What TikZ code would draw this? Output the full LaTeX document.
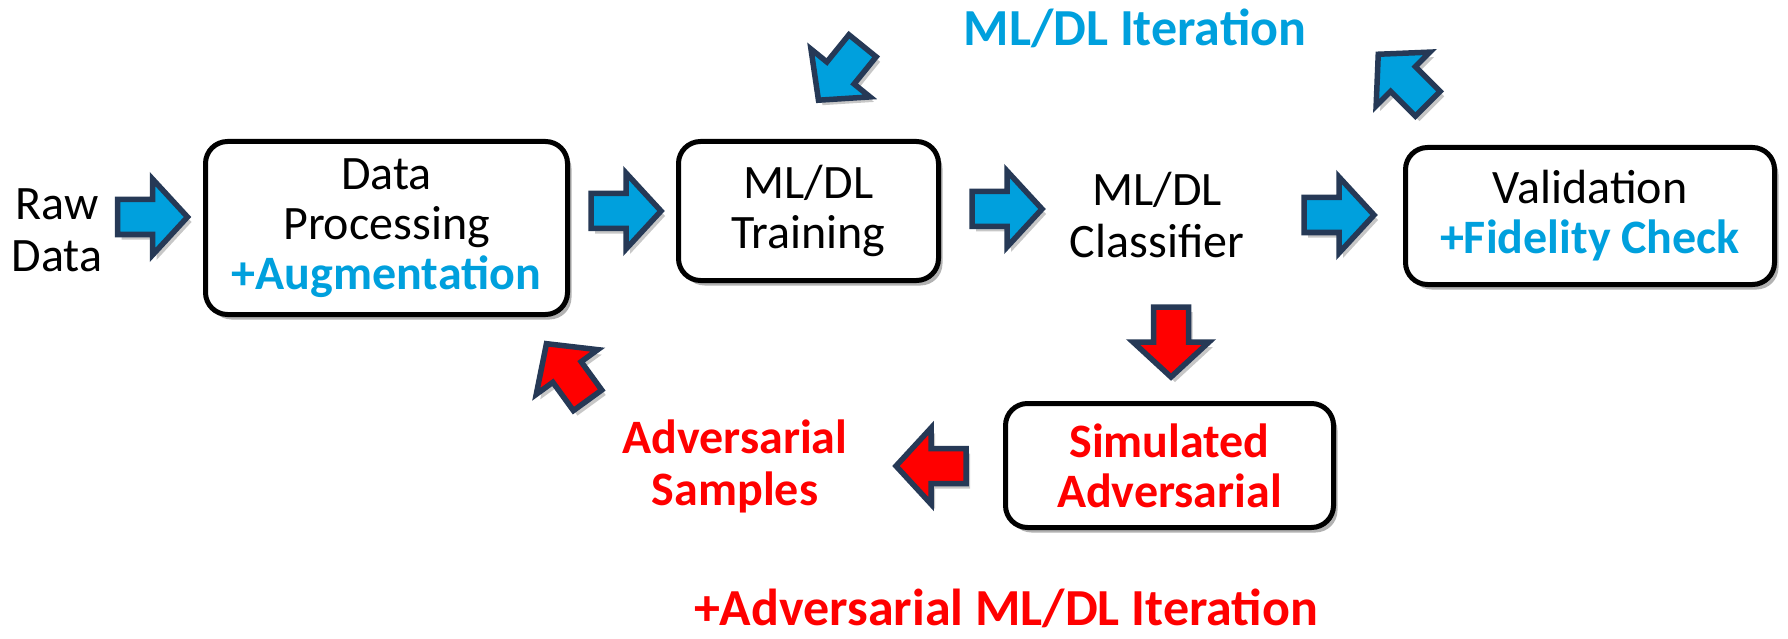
\documentclass[tikz,border=0pt]{standalone}
\usepackage{fontspec}
\setmainfont{Carlito}
\usetikzlibrary{shadows}
\definecolor{iblue}{RGB}{0,160,221}
\definecolor{navy}{RGB}{38,57,86}
\definecolor{ired}{RGB}{255,0,0}
\tikzset{
 box/.style={draw=black, line width=5pt, rounded corners=22pt, fill=white, align=center, inner sep=0pt,
   drop shadow={shadow xshift=4pt, shadow yshift=-5pt, opacity=0.3, fill=black},
   font=\fontsize{48}{50}\selectfont},
 txt/.style={align=center, inner sep=0pt, font=\fontsize{48}{52}\selectfont},
 btxt/.style={align=center, inner sep=0pt, font=\fontsize{48}{52}\selectfont\bfseries},
 title/.style={inner sep=0pt, font=\fontsize{52}{56}\selectfont\bfseries},
 arrowline/.style={draw=navy, line width=5.5pt, line join=miter},
 arrowshadow/.style={fill=black, opacity=0.22},
}
\newcommand\blockarr[4]{%
 \begin{scope}[shift={#2}, shift={(4,-5)}, rotate=#3]
   \fill[arrowshadow] (-35,17.5) -- (0,17.5) -- (0,38) -- (35,0) -- (0,-38) -- (0,-17.5) -- (-35,-17.5) -- cycle;
 \end{scope}
 \begin{scope}[shift={#2}, rotate=#3]
   \path[arrowline, fill=#4] (-35,17.5) -- (0,17.5) -- (0,38) -- (35,0) -- (0,-38) -- (0,-17.5) -- (-35,-17.5) -- cycle;
   \coordinate (#1) at (0,0);
 \end{scope}}
\begin{document}
\begin{tikzpicture}[x=1pt, y=1pt]
\useasboundingbox (0,0) rectangle (1788,-639);
\fill[white] (0,0) rectangle (1788,-639);

% titles
\node[title, text=iblue] (t1) at (1135,-28) {ML/DL Iteration};
\node[title, text=ired] (t2) at (1006,-608) {+Adversarial ML/DL Iteration};

% plain texts
\node[txt] (raw) at (57,-230) {Raw\\Data};
\node[txt] (cls) at (1157,-215) {ML/DL\\Classifier};
\node[btxt, text=ired] (adv) at (735,-466) {Adversarial\\Samples};

% boxes
\node[box, minimum width=362pt, minimum height=173pt] (dp) at (386.5,-228)
  {Data\\Processing\\\textcolor{iblue}{\bfseries +Augmentation}};
\node[box, minimum width=260pt, minimum height=139pt] (tr) at (808.5,-211) {ML/DL\\Training};
\node[box, minimum width=369pt, minimum height=137pt] (val) at (1590,-216)
  {Validation\\\textcolor{iblue}{\bfseries +Fidelity Check}};
\node[box, minimum width=328pt, minimum height=124pt, text=ired, font=\fontsize{48}{50}\selectfont\bfseries] (sim) at (1169.5,-465.5)
  {Simulated\\Adversarial};

% block arrows
\blockarr{a1}{(152.5,-217)}{0}{iblue}
\blockarr{a2}{(626,-211)}{0}{iblue}
\blockarr{a3}{(1007,-209)}{0}{iblue}
\blockarr{a4}{(1339,-215)}{0}{iblue}
\blockarr{a5}{(1171,-342)}{-90}{ired}
\blockarr{a6}{(931,-466)}{180}{ired}
\blockarr{a7}{(567,-372)}{126}{ired}
\blockarr{a8}{(840.5,-73)}{231}{iblue}
\blockarr{a9}{(1403,-79)}{135}{iblue}
\end{tikzpicture}
\end{document}
